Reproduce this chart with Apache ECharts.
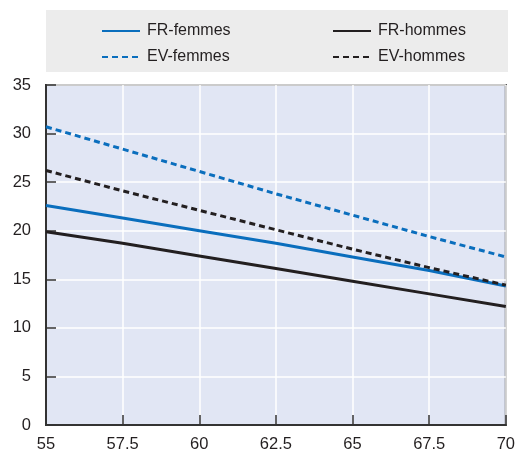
<!DOCTYPE html>
<html>
<head>
<meta charset="utf-8">
<script src="https://cdn.jsdelivr.net/npm/echarts@6/dist/echarts.min.js"></script>
<style>
  html, body { margin: 0; padding: 0; background: #fff; }
  #chart { width: 518px; height: 454px; }
</style>
</head>
<body>
<div id="chart"></div>
<script>
// ages on the x axis
const ages = [55, 57.5, 60, 62.5, 65, 67.5, 70]
const frFemmes = [22.6, 21.3, 20.0, 18.7, 17.3, 15.9, 14.3]
const frHommes = [19.9, 18.7, 17.4, 16.1, 14.8, 13.5, 12.2]
const evFemmes = [30.7, 28.4, 26.1, 23.8, 21.6, 19.4, 17.3]
const evHommes = [26.2, 24.1, 22.1, 20.1, 18.1, 16.2, 14.4]

const blue = '#0a6ebd'
const dark = '#231f20'
const font = "'Liberation Sans', Arial, sans-serif"

function pairs(vals) {
  return ages.map((a, i) => [a, vals[i]])
}

function line(name, vals, color, dashed) {
  return {
    name,
    type: 'line',
    data: pairs(vals),
    symbol: 'none',
    lineStyle: { color, width: 3, type: dashed ? [6, 4] : 'solid' },
    itemStyle: { color },
  }
}

const legendText = { fontFamily: font, fontSize: 16, color: dark, padding: [0, 0, 0, 2] }
const legendBase = {
  orient: 'vertical',
  top: 18,
  itemWidth: 38,
  itemHeight: 10,
  itemGap: 10,
  itemStyle: { opacity: 0 },
  textStyle: legendText,
}

let chart = echarts.init(document.getElementById('chart'))
chart.setOption({
  animation: false,
  graphic: [
    {
      type: 'rect',
      shape: { x: 46, y: 10, width: 462, height: 62 },
      style: { fill: '#ececec' },
      silent: true,
      z: -10,
    },
  ],
  legend: [
    Object.assign({ data: ['FR-femmes', 'EV-femmes'], left: 96 }, legendBase),
    Object.assign({ data: ['FR-hommes', 'EV-hommes'], left: 327 }, legendBase),
  ],
  grid: {
    left: 46,
    right: 11,
    top: 85,
    bottom: 29,
    show: true,
    backgroundColor: '#e1e6f4',
    borderColor: '#333',
    borderWidth: 2,
  },
  xAxis: {
    type: 'value',
    min: 55,
    max: 70,
    interval: 2.5,
    axisLine: { show: true, lineStyle: { color: '#333', width: 2 } },
    axisTick: { show: true, inside: true, length: 10, lineStyle: { color: '#333', width: 1.5 } },
    axisLabel: { fontFamily: font, fontSize: 16.5, color: dark, margin: 11 },
    splitLine: { show: true, lineStyle: { color: '#fff', width: 1.5 } },
  },
  yAxis: {
    type: 'value',
    min: 0,
    max: 35,
    interval: 5,
    axisLine: { show: true, lineStyle: { color: '#333', width: 2 } },
    axisTick: { show: true, inside: true, length: 10, lineStyle: { color: '#333', width: 1.5 } },
    axisLabel: { fontFamily: font, fontSize: 16.5, color: dark, margin: 15 },
    splitLine: { show: true, lineStyle: { color: '#fff', width: 1.5 } },
  },
  series: [
    line('FR-femmes', frFemmes, blue, false),
    line('FR-hommes', frHommes, dark, false),
    line('EV-femmes', evFemmes, blue, true),
    line('EV-hommes', evHommes, dark, true),
  ],
})
</script>
</body>
</html>
